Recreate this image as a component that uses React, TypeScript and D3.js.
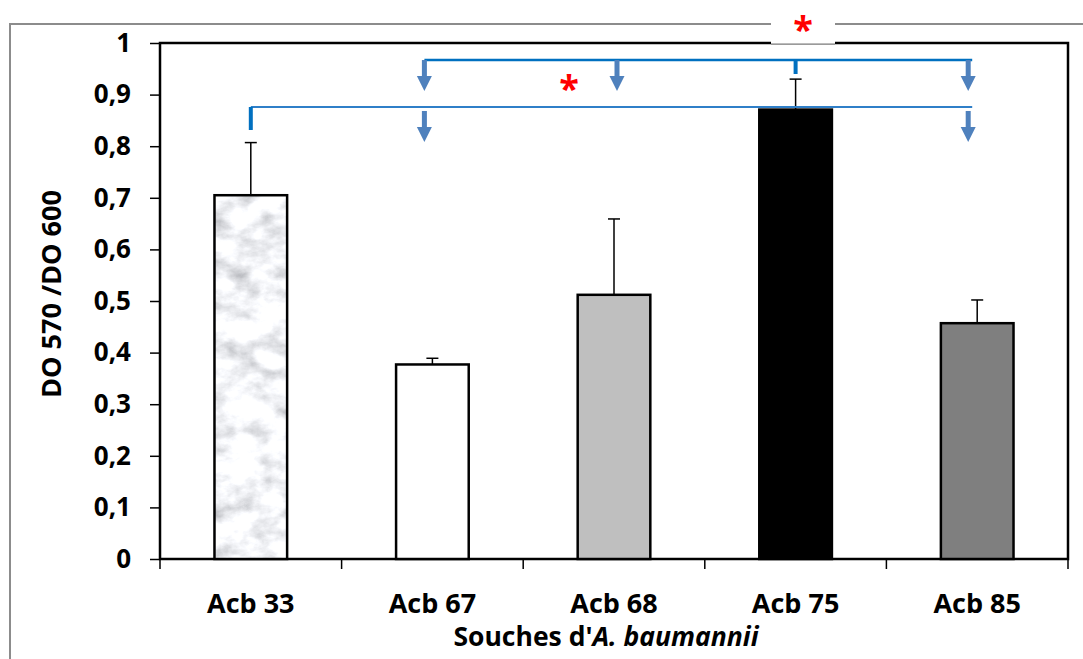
import React, { useEffect, useRef } from "react";
import * as d3 from "d3";

// values
const strains = ["Acb 33", "Acb 67", "Acb 68", "Acb 75", "Acb 85"];
const means = [0.705, 0.377, 0.512, 0.871, 0.457];
const errors = [0.102, 0.012, 0.147, 0.059, 0.045];
const yTicks = [0, 0.1, 0.2, 0.3, 0.4, 0.5, 0.6, 0.7, 0.8, 0.9, 1];

// significance brackets: reference strain -> compared strains
const sigFrom = ["Acb 75", "Acb 33"];
const sigTo = [
  ["Acb 67", "Acb 68", "Acb 85"],
  ["Acb 67", "Acb 85"],
];
const sigLevel = [0.967, 0.876];

const fills = ["url(#marble)", "#ffffff", "#bfbfbf", "#000000", "#7f7f7f"];

const App = () => {
  const ref = useRef<SVGSVGElement>(null);
  const width = 1083;
  const height = 659;
  const plot = { left: 160, right: 1068, top: 43, bottom: 559 };
  const font = "'Open Sans', sans-serif";

  useEffect(() => {
    const svg = d3.select(ref.current);
    svg.selectAll("g.chart").remove();
    const g = svg.append("g").attr("class", "chart");

    const x = d3
      .scaleBand()
      .domain(strains)
      .range([plot.left, plot.right])
      .paddingInner(0.6)
      .paddingOuter(0.3);
    const y = d3.scaleLinear().domain([0, 1]).range([plot.bottom, plot.top]);
    const cx = (s: string) => (x(s) as number) + x.bandwidth() / 2;

    // outer frame (grey)
    g.append("path")
      .attr("d", `M10,${height} V24 H${width}`)
      .attr("fill", "none")
      .attr("stroke", "#8c8c8c")
      .attr("stroke-width", 2);

    // plot frame
    g.append("rect")
      .attr("x", plot.left)
      .attr("y", plot.top)
      .attr("width", plot.right - plot.left)
      .attr("height", plot.bottom - plot.top)
      .attr("fill", "none")
      .attr("stroke", "#000")
      .attr("stroke-width", 2.5);

    // y axis
    const yAxis = d3
      .axisLeft(y)
      .tickValues(yTicks)
      .tickSize(10)
      .tickPadding(19)
      .tickFormat((d) => String(d).replace(".", ","));
    const ya = g
      .append("g")
      .attr("transform", `translate(${plot.left},0)`)
      .call(yAxis);
    ya.select(".domain").remove();
    ya.selectAll("line").attr("stroke", "#000").attr("stroke-width", 1.5);
    ya.selectAll("text")
      .attr("font-family", font)
      .attr("font-weight", 700)
      .attr("font-size", 26)
      .attr("fill", "#000");

    // x ticks at category boundaries
    const step = x.step();
    const edges = d3.range(strains.length + 1).map((i) => plot.left + i * step);
    g.selectAll("line.xtick")
      .data(edges)
      .enter()
      .append("line")
      .attr("class", "xtick")
      .attr("x1", (d) => d)
      .attr("x2", (d) => d)
      .attr("y1", plot.bottom)
      .attr("y2", plot.bottom + 10)
      .attr("stroke", "#000")
      .attr("stroke-width", 1.5);

    g.selectAll("text.xlab")
      .data(strains)
      .enter()
      .append("text")
      .attr("class", "xlab")
      .attr("x", (d) => cx(d))
      .attr("y", 613)
      .attr("text-anchor", "middle")
      .attr("font-family", font)
      .attr("font-weight", 700)
      .attr("font-size", 27)
      .text((d) => d);

    // axis titles
    const xt = g
      .append("text")
      .attr("x", 606)
      .attr("y", 646)
      .attr("text-anchor", "middle")
      .attr("font-family", font)
      .attr("font-weight", 700)
      .attr("font-size", 26.5);
    xt.append("tspan").text("Souches d'");
    xt.append("tspan").attr("font-style", "italic").text("A. baumannii");

    g.append("text")
      .attr("transform", "translate(61,294) rotate(-90)")
      .attr("text-anchor", "middle")
      .attr("font-family", font)
      .attr("font-weight", 700)
      .attr("font-size", 27)
      .text("DO 570 /DO 600");

    // bars
    const rows = strains.map((s, i) => ({ s, v: means[i], e: errors[i], f: fills[i] }));
    g.selectAll("rect.bar")
      .data(rows)
      .enter()
      .append("rect")
      .attr("class", "bar")
      .attr("x", (d) => x(d.s) as number)
      .attr("y", (d) => y(d.v))
      .attr("width", x.bandwidth())
      .attr("height", (d) => y(0) - y(d.v))
      .attr("fill", (d) => (d.f.startsWith("url") ? "#e4e5e8" : d.f))
      .attr("filter", (d) => (d.f.startsWith("url") ? d.f : null));
    g.selectAll("rect.barEdge")
      .data(rows)
      .enter()
      .append("rect")
      .attr("class", "barEdge")
      .attr("x", (d) => x(d.s) as number)
      .attr("y", (d) => y(d.v))
      .attr("width", x.bandwidth())
      .attr("height", (d) => y(0) - y(d.v))
      .attr("fill", "none")
      .attr("stroke", "#000")
      .attr("stroke-width", 2.5);

    // error bars (upper only)
    const eb = g.selectAll("g.err").data(rows).enter().append("g").attr("class", "err");
    eb.append("line")
      .attr("x1", (d) => cx(d.s))
      .attr("x2", (d) => cx(d.s))
      .attr("y1", (d) => y(d.v))
      .attr("y2", (d) => y(d.v + d.e))
      .attr("stroke", "#000")
      .attr("stroke-width", 1.5);
    eb.append("line")
      .attr("x1", (d) => cx(d.s) - 6)
      .attr("x2", (d) => cx(d.s) + 6)
      .attr("y1", (d) => y(d.v + d.e))
      .attr("y2", (d) => y(d.v + d.e))
      .attr("stroke", "#000")
      .attr("stroke-width", 1.5);

    // significance brackets
    const nudge: Record<string, number> = {
      "Acb 67": -8,
      "Acb 68": 3,
      "Acb 85": -9,
    };
    const arrow = (ax: number, y0: number) => {
      const shaft = 16;
      const head = 15;
      g.append("rect")
        .attr("x", ax - 2.5)
        .attr("y", y0)
        .attr("width", 5)
        .attr("height", shaft + 1)
        .attr("fill", "#4f81bd");
      g.append("path")
        .attr(
          "d",
          `M${ax - 7.5},${y0 + shaft} H${ax + 7.5} L${ax},${y0 + shaft + head} Z`
        )
        .attr("fill", "#4f81bd");
    };

    sigFrom.forEach((src, k) => {
      const ly = y(sigLevel[k]);
      const xs = sigTo[k].map((t) => cx(t) + (nudge[t] || 0));
      const left = Math.min(cx(src), ...xs);
      const right = Math.max(cx(src), ...xs) + 4;
      g.append("line")
        .attr("x1", left)
        .attr("x2", right)
        .attr("y1", ly)
        .attr("y2", ly)
        .attr("stroke", k === 0 ? "#0070c0" : "#2f7fc8")
        .attr("stroke-width", k === 0 ? 2.5 : 2);
      // stub over the reference strain
      g.append("line")
        .attr("x1", cx(src))
        .attr("x2", cx(src))
        .attr("y1", ly)
        .attr("y2", ly + (k === 0 ? 14 : 23))
        .attr("stroke", "#0070c0")
        .attr("stroke-width", 4);
      xs.forEach((ax) => arrow(ax, ly + (k === 0 ? 0 : 4)));
    });

    // stars
    g.append("rect")
      .attr("x", 771)
      .attr("y", 11)
      .attr("width", 64)
      .attr("height", 33)
      .attr("fill", "#fff");
    g.append("line")
      .attr("x1", 771)
      .attr("x2", 835)
      .attr("y1", 44)
      .attr("y2", 44)
      .attr("stroke", "#777")
      .attr("stroke-width", 1);
    const stars = [
      { x: 803, y: 42 },
      { x: 569, y: 101 },
    ];
    g.selectAll("text.star")
      .data(stars)
      .enter()
      .append("text")
      .attr("class", "star")
      .attr("x", (d) => d.x)
      .attr("y", (d) => d.y)
      .attr("text-anchor", "middle")
      .attr("font-family", font)
      .attr("font-weight", 700)
      .attr("font-size", 36)
      .attr("fill", "#ff0000")
      .text("*");
  }, []);

  return (
    <svg
      ref={ref}
      width={width}
      height={height}
      style={{ position: "absolute", left: 0, top: 0, background: "#fff" }}
    >
      <defs>
        <filter id="marble" x="0" y="0" width="1" height="1">
          <feTurbulence
            type="fractalNoise"
            baseFrequency="0.035 0.05"
            numOctaves={5}
            seed={11}
            result="noise"
          />
          <feColorMatrix
            in="noise"
            type="matrix"
            values="-1.1 0 0 0 1.47  -1.1 0 0 0 1.48  -1.1 0 0 0 1.51  0 0 0 0 1"
          />
        </filter>
      </defs>
    </svg>
  );
};

export default App;
